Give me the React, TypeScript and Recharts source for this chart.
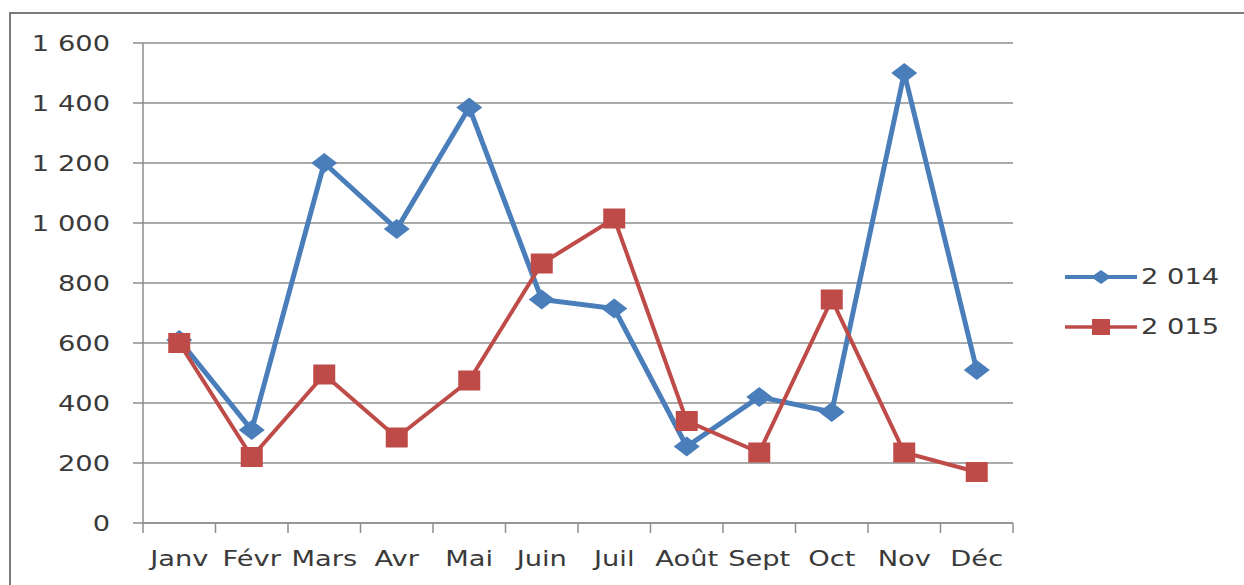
import React from "react";
import {
  LineChart,
  Line,
  XAxis,
  YAxis,
  CartesianGrid,
  Legend,
} from "recharts";

const months = ["Janv", "Févr", "Mars", "Avr", "Mai", "Juin", "Juil", "Août", "Sept", "Oct", "Nov", "Déc"];
const values2014 = [610, 310, 1200, 980, 1385, 745, 715, 255, 420, 370, 1500, 510];
const values2015 = [600, 220, 495, 285, 475, 865, 1015, 340, 235, 745, 235, 170];
const yTicks = [0, 200, 400, 600, 800, 1000, 1200, 1400, 1600];

const W = 1244;
const H = 585;
const MARGIN = { top: 43, right: 231, bottom: 12, left: 0 };
const Y_AXIS_W = 143;
const PLOT_W = W - MARGIN.left - MARGIN.right - Y_AXIS_W;
const HALF_BAND = PLOT_W / months.length / 2;

const BLUE = "#4a7ebb";
const RED = "#be4b48";
const TEXT = "#3a3a3a";
const GRID = "#8e8e8e";
const FONT = "'DejaVu Sans', Verdana, sans-serif";
const FONT_SIZE = 21;
const STRETCH = 1.3;

const data = months.map((m, i) => ({
  month: m,
  y2014: values2014[i],
  y2015: values2015[i],
}));

// "1600" -> "1 600"
const fmt = (v: number) =>
  v >= 1000 ? `${Math.floor(v / 1000)} ${String(v % 1000).padStart(3, "0")}` : String(v);

function YTick({ x, y, payload }: any) {
  return (
    <g transform={`translate(${x},${y}) scale(${STRETCH},1)`}>
      <text textAnchor="end" dy={7.5} fill={TEXT} fontSize={FONT_SIZE} fontFamily={FONT}>
        {fmt(payload.value)}
      </text>
    </g>
  );
}

// month label at the centre, tick marks on the category boundaries
function XTick({ x, y, payload, index }: any) {
  const last = index === months.length - 1;
  return (
    <g>
      <line x1={x - HALF_BAND} x2={x - HALF_BAND} y1={y - 10} y2={y} stroke={GRID} strokeWidth={1.5} />
      {last && (
        <line x1={x + HALF_BAND} x2={x + HALF_BAND} y1={y - 10} y2={y} stroke={GRID} strokeWidth={1.5} />
      )}
      <g transform={`translate(${x},${y + 33}) scale(${STRETCH},1)`}>
        <text textAnchor="middle" fill={TEXT} fontSize={FONT_SIZE} fontFamily={FONT}>
          {payload.value}
        </text>
      </g>
    </g>
  );
}

function Diamond({ cx, cy, fill, w = 13, h = 10 }: any) {
  if (cx == null || cy == null) return null;
  return (
    <polygon
      points={`${cx - w},${cy} ${cx},${cy - h} ${cx + w},${cy} ${cx},${cy + h}`}
      fill={fill}
    />
  );
}

function Square({ cx, cy, fill, w = 11, h = 10 }: any) {
  if (cx == null || cy == null) return null;
  return <rect x={cx - w} y={cy - h} width={w * 2} height={h * 2} fill={fill} />;
}

function LegendBox({ payload }: any) {
  return (
    <div>
      {(payload || []).map((p: any, i: number) => (
        <div key={p.value} style={{ display: "flex", alignItems: "center", height: 50 }}>
          <svg width={76} height={24}>
            <line x1={0} x2={72} y1={12} y2={12} stroke={p.color} strokeWidth={i === 0 ? 4 : 3.5} />
            {i === 0 ? (
              <Diamond cx={36} cy={12} fill={p.color} w={10} h={7} />
            ) : (
              <Square cx={36} cy={12} fill={p.color} w={9} h={8} />
            )}
          </svg>
          <span
            style={{
              fontFamily: FONT,
              fontSize: FONT_SIZE,
              color: TEXT,
              display: "inline-block",
              transform: `scaleX(${STRETCH})`,
              transformOrigin: "left center",
            }}
          >
            {p.value}
          </span>
        </div>
      ))}
    </div>
  );
}

export default function App() {
  return (
    <div style={{ position: "absolute", left: 0, top: 0, width: W, height: H, background: "#fff", overflow: "hidden" }}>
      <div
        style={{
          position: "absolute",
          left: 9,
          top: 12,
          width: W,
          height: H,
          borderTop: "2px solid #7a7a7a",
          borderLeft: "2px solid #7a7a7a",
        }}
      />
      <div style={{ position: "absolute", left: 0, top: 0 }}>
        <LineChart width={W} height={H} data={data} margin={MARGIN}>
          <CartesianGrid vertical={false} stroke={GRID} strokeWidth={1.5} />
          <XAxis
            dataKey="month"
            padding={{ left: HALF_BAND, right: HALF_BAND }}
            height={50}
            interval={0}
            tickLine={false}
            tickSize={10}
            tickMargin={0}
            axisLine={{ stroke: GRID, strokeWidth: 1.5 }}
            tick={<XTick />}
          />
          <YAxis
            domain={[0, 1600]}
            ticks={yTicks}
            width={Y_AXIS_W}
            tickSize={10}
            tickMargin={23}
            axisLine={{ stroke: GRID, strokeWidth: 1.5 }}
            tickLine={{ stroke: GRID, strokeWidth: 1.5 }}
            tick={<YTick />}
          />
          {/* centred + middle so the legend reserves no space in the plot */}
          <Legend
            layout="vertical"
            verticalAlign="middle"
            align="center"
            content={<LegendBox />}
            wrapperStyle={{ left: 1065, top: 252, width: 170 }}
          />
          <Line
            name="2 014"
            dataKey="y2014"
            stroke={BLUE}
            strokeWidth={5}
            dot={<Diamond fill={BLUE} />}
            activeDot={false}
            isAnimationActive={false}
          />
          <Line
            name="2 015"
            dataKey="y2015"
            stroke={RED}
            strokeWidth={4}
            dot={<Square fill={RED} />}
            activeDot={false}
            isAnimationActive={false}
          />
        </LineChart>
      </div>
    </div>
  );
}
